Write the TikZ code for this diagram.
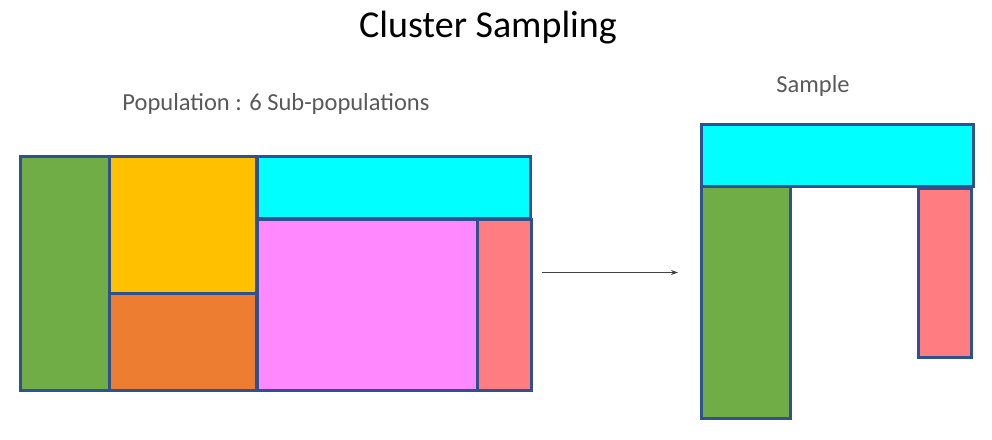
\documentclass[tikz,border=0pt]{standalone}
\usetikzlibrary{arrows.meta}
\usepackage{fontspec}
\setmainfont{Carlito}
\definecolor{cgreen}{HTML}{70AD47}
\definecolor{cyellow}{HTML}{FFC000}
\definecolor{corange}{HTML}{ED7D31}
\definecolor{ccyan}{HTML}{00FFFF}
\definecolor{cmag}{HTML}{FF88FF}
\definecolor{csalmon}{HTML}{FF7C80}
\definecolor{cline}{HTML}{2F528F}
\definecolor{ctext}{HTML}{595959}
\definecolor{carrow}{HTML}{404040}
\begin{document}
\begin{tikzpicture}[x=1pt,y=-1pt,
  cell/.style={draw=cline,line width=3pt},
  lbl/.style={inner sep=0pt,text=ctext,font=\fontsize{24.5}{27}\selectfont}]
\useasboundingbox (0,0) rectangle (992,439);
% title
\node[inner sep=0pt,font=\fontsize{38}{42}\selectfont] (title) at (488,28) {Cluster Sampling};
\node[lbl] (poplbl) at (276,104) {Population : 6 Sub-populations};
\node[lbl] (samplbl) at (813,86) {Sample};
% population
\filldraw[cell,fill=cgreen] (20,156) rectangle (109,390);
\filldraw[cell,fill=cyellow] (109,156) rectangle (256,293);
\filldraw[cell,fill=corange] (109,293) rectangle (256,390);
\filldraw[cell,fill=ccyan] (257,156) rectangle (530,218);
\filldraw[cell,fill=cmag] (257,219) rectangle (477,390);
\filldraw[cell,fill=csalmon] (477,219) rectangle (531,390);
% arrow
\coordinate (a1) at (542,272.5);
\coordinate (a2) at (678,272.5);
\draw[-{Stealth[length=7pt,width=5pt]},line width=0.8pt,draw=carrow] (a1) -- (a2);
% sample
\filldraw[cell,fill=cgreen] (701,186) rectangle (790,418);
\filldraw[cell,fill=csalmon] (918,188) rectangle (971,357);
\filldraw[cell,fill=ccyan] (701,124) rectangle (973,186);
\end{tikzpicture}
\end{document}
